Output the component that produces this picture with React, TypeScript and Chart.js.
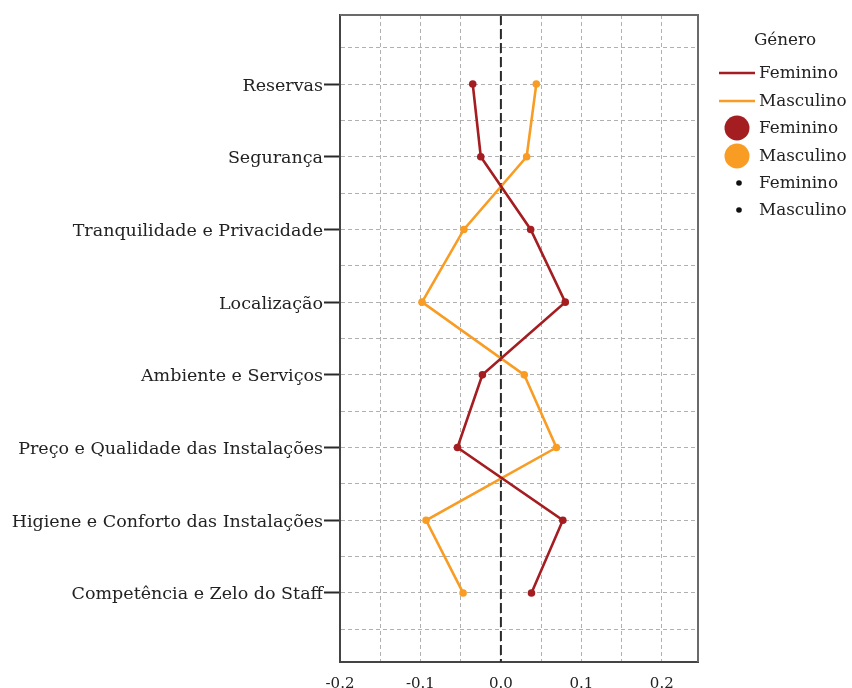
import React, { useEffect, useRef } from "react";
import { Chart, registerables } from "chart.js";

Chart.register(...registerables);

const categories = [
  "Reservas",
  "Segurança",
  "Tranquilidade e Privacidade",
  "Localização",
  "Ambiente e Serviços",
  "Preço e Qualidade das Instalações",
  "Higiene e Conforto das Instalações",
  "Competência e Zelo do Staff",
];
const feminino = [-0.035, -0.025, 0.037, 0.08, -0.023, -0.054, 0.077, 0.038];
const masculino = [0.044, 0.032, -0.046, -0.098, 0.029, 0.069, -0.093, -0.047];
const xTicks = [-0.2, -0.15, -0.1, -0.05, 0, 0.05, 0.1, 0.15, 0.2];
const xTickLabels = ["-0.2", "", "-0.1", "", "0.0", "", "0.1", "", "0.2"];
const seriesNames = ["Feminino", "Masculino"];
const legendTitle = "Género";

const RED = "#a41d21";
const ORANGE = "#f89c24";
const FONT = "'DejaVu Serif', 'Liberation Serif', serif";

const frameAndZero = {
  id: "frameAndZero",
  beforeDatasetsDraw(chart: any) {
    const { ctx, chartArea } = chart;
    const x0 = chart.scales.x.getPixelForValue(0);
    ctx.save();
    ctx.strokeStyle = "#2a2a2a";
    ctx.lineWidth = 2;
    ctx.setLineDash([10, 4]);
    ctx.beginPath();
    ctx.moveTo(x0, chartArea.top);
    ctx.lineTo(x0, chartArea.bottom);
    ctx.stroke();
    ctx.restore();
  },
  afterDraw(chart: any) {
    const { ctx, chartArea } = chart;
    ctx.save();
    ctx.strokeStyle = "#6a6a6a";
    ctx.lineWidth = 2;
    ctx.beginPath();
    ctx.moveTo(chartArea.left, chartArea.top);
    ctx.lineTo(chartArea.right, chartArea.top);
    ctx.lineTo(chartArea.right, chartArea.bottom);
    ctx.stroke();
    ctx.restore();
  },
};

const customLegend = {
  id: "customLegend",
  afterDraw(chart: any) {
    const { ctx } = chart;
    ctx.save();
    ctx.fillStyle = "#222";
    ctx.font = `16.8px ${FONT}`;
    ctx.textBaseline = "middle";
    ctx.textAlign = "center";
    ctx.fillText(legendTitle, 785, 41);
    ctx.textAlign = "left";
    const colors = [RED, ORANGE];
    const rows = [73, 101, 128, 156, 183, 210];
    const textX = 759;
    for (let i = 0; i < 2; i++) {
      const y = rows[i];
      ctx.strokeStyle = colors[i];
      ctx.lineWidth = 2.5;
      ctx.beginPath();
      ctx.moveTo(719, y);
      ctx.lineTo(755, y);
      ctx.stroke();
      ctx.fillStyle = "#222";
      ctx.fillText(seriesNames[i], textX, y + 1);
    }
    for (let i = 0; i < 2; i++) {
      const y = rows[2 + i];
      ctx.fillStyle = colors[i];
      ctx.beginPath();
      ctx.arc(737, y, 12.5, 0, Math.PI * 2);
      ctx.fill();
      ctx.fillStyle = "#222";
      ctx.fillText(seriesNames[i], textX, y + 1);
    }
    for (let i = 0; i < 2; i++) {
      const y = rows[4 + i];
      ctx.fillStyle = "#111";
      ctx.beginPath();
      ctx.arc(739, y, 2.8, 0, Math.PI * 2);
      ctx.fill();
      ctx.fillStyle = "#222";
      ctx.fillText(seriesNames[i], textX, y + 1);
    }
    ctx.restore();
  },
};

export default function App() {
  const ref = useRef<HTMLCanvasElement>(null);
  useEffect(() => {
    document.body.style.margin = "0";
    const canvas = ref.current!;
    const toPoints = (arr: number[]) => arr.map((v, i) => ({ x: v, y: i }));
    const chart = new Chart(canvas, {
      type: "line",
      data: {
        datasets: [
          {
            label: seriesNames[0],
            data: toPoints(feminino),
            borderColor: RED,
            backgroundColor: RED,
            borderWidth: 2.6,
            pointRadius: 3.8,
            pointBorderWidth: 0,
            pointBackgroundColor: RED,
            tension: 0,
          },
          {
            label: seriesNames[1],
            data: toPoints(masculino),
            borderColor: ORANGE,
            backgroundColor: ORANGE,
            borderWidth: 2.6,
            pointRadius: 3.8,
            pointBorderWidth: 0,
            pointBackgroundColor: ORANGE,
            tension: 0,
          },
        ],
      },
      options: {
        animation: false,
        responsive: false,
        maintainAspectRatio: false,
        layout: { padding: { top: 15, right: 154, left: 0, bottom: 0 } },
        plugins: {
          legend: { display: false },
          tooltip: { enabled: false },
        },
        scales: {
          x: {
            type: "linear",
            min: -0.2,
            max: 0.245,
            afterBuildTicks(scale: any) {
              scale.ticks = xTicks.map((v) => ({ value: v }));
            },
            afterFit(scale: any) {
              scale.height = 26;
            },
            border: { display: true, color: "#444", width: 2, dash: [4, 3] },
            grid: {
              color: "#b0b0b0",
              lineWidth: 1,
              drawTicks: false,
            },
            ticks: {
              padding: 13,
              color: "#222",
              font: { family: FONT, size: 15 },
              maxRotation: 0,
              autoSkip: false,
              callback(_v: any, i: number) {
                return xTickLabels[i];
              },
            },
          },
          y: {
            type: "linear",
            reverse: true,
            min: -0.95,
            max: 7.95,
            afterBuildTicks(scale: any) {
              const t: any[] = [];
              for (let i = -1; i <= categories.length * 2 - 1; i++) t.push({ value: i / 2 });
              scale.ticks = t;
            },
            afterFit(scale: any) {
              scale.width = 340;
            },
            border: { display: true, color: "#444", width: 2, dash: [4, 3] },
            grid: {
              color: "#b0b0b0",
              lineWidth: 1,
              drawTicks: true,
              tickLength: 16,
              tickWidth: 2,
              tickBorderDash: [],
              tickColor: (c: any) =>
                c.tick && Number.isInteger(c.tick.value) ? "#2a2a2a" : "rgba(0,0,0,0)",
            },
            ticks: {
              padding: 1,
              labelOffset: 2,
              color: "#222",
              autoSkip: false,
              font: { family: FONT, size: 17.5 },
              callback(v: any) {
                const n = Number(v);
                return Number.isInteger(n) && n >= 0 && n < categories.length ? categories[n] : "";
              },
            },
          },
        },
      } as any,
      plugins: [frameAndZero, customLegend],
    });
    return () => chart.destroy();
  }, []);
  return (
    <div style={{ position: "absolute", left: 0, top: 0, width: 852, height: 688 }}>
      <canvas ref={ref} width={852} height={688} style={{ width: 852, height: 688 }} />
    </div>
  );
}
